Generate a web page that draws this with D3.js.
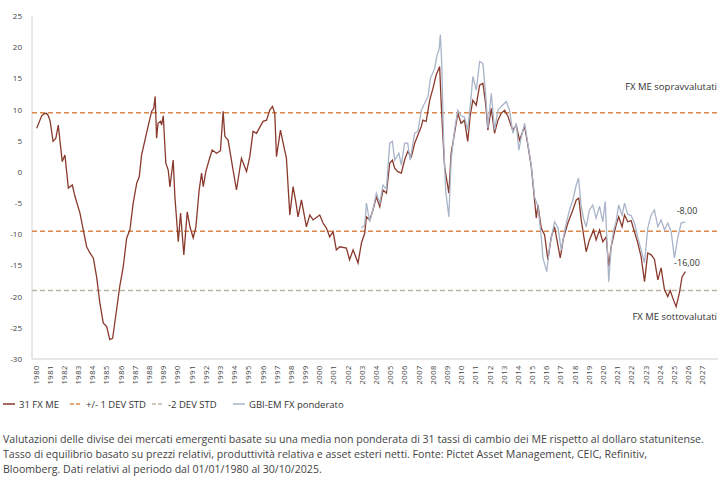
<!DOCTYPE html>
<html>
<head>
<meta charset="utf-8">
<script src="https://cdn.jsdelivr.net/npm/d3@7"></script>
<style>
  body { margin: 0; background: #fff; font-family: "Open Sans", sans-serif; }
  svg { display: block; }
</style>
</head>
<body>
<svg width="724" height="477"></svg>
<script>
// 31 FX ME (media non ponderata)
let fxDates = [1980.05,1980.4,1980.56,1980.75,1980.87,1981.0,1981.2,1981.4,1981.57,1981.85,1982.04,1982.28,1982.56,1982.75,1983.1,1983.33,1983.57,1983.8,1984.04,1984.27,1984.5,1984.74,1984.98,1985.2,1985.4,1985.68,1985.9,1986.15,1986.39,1986.62,1986.85,1987.1,1987.28,1987.44,1987.68,1987.9,1988.15,1988.3,1988.4,1988.5,1988.6,1988.78,1988.85,1988.97,1989.15,1989.32,1989.44,1989.67,1989.79,1990.03,1990.19,1990.42,1990.66,1990.85,1991.08,1991.27,1991.5,1991.67,1991.79,1991.97,1992.2,1992.42,1992.73,1993.0,1993.19,1993.31,1993.54,1993.85,1994.13,1994.24,1994.48,1994.84,1995.07,1995.3,1995.54,1996.0,1996.25,1996.48,1996.67,1996.83,1996.95,1997.23,1997.42,1997.65,1997.89,1998.12,1998.31,1998.47,1998.71,1999.06,1999.3,1999.53,2000.0,2000.23,2000.47,2000.7,2000.94,2001.17,2001.41,2001.88,2002.1,2002.35,2002.7,2002.94,2003.17,2003.29,2003.52,2003.75,2003.99,2004.23,2004.46,2004.7,2004.93,2005.12,2005.28,2005.5,2005.75,2005.98,2006.2,2006.46,2006.69,2006.92,2007.16,2007.27,2007.5,2007.75,2007.98,2008.2,2008.45,2008.57,2008.68,2008.8,2009.1,2009.26,2009.5,2009.73,2009.96,2010.2,2010.43,2010.6,2010.79,2011.03,2011.27,2011.5,2011.69,2011.85,2012.09,2012.32,2012.56,2012.79,2013.03,2013.27,2013.5,2013.61,2013.85,2014.08,2014.44,2014.67,2014.91,2015.14,2015.26,2015.38,2015.61,2015.85,2016.08,2016.32,2016.55,2016.95,2017.18,2017.49,2017.84,2018.08,2018.26,2018.43,2018.78,2019.01,2019.3,2019.48,2019.72,2019.95,2020.19,2020.37,2020.54,2020.7,2020.89,2021.07,2021.31,2021.48,2021.71,2021.95,2022.18,2022.42,2022.65,2022.89,2023.12,2023.36,2023.59,2023.83,2024.06,2024.3,2024.53,2024.7,2024.88,2025.12,2025.35,2025.54,2025.77];
let fxValues = [7.0,9.0,9.3,9.4,9.0,8.1,4.9,5.4,7.5,1.65,2.7,-2.6,-2.1,-3.95,-6.6,-9.3,-12.0,-13.0,-13.8,-16.8,-21.0,-24.2,-24.8,-26.9,-26.7,-22.1,-18.4,-15.2,-10.6,-9.3,-5.0,-1.8,-0.75,2.7,5.1,7.3,9.7,10.2,12.1,5.4,7.8,8.1,7.5,9.0,1.4,0.3,-2.4,1.9,-4.0,-11.2,-6.6,-13.3,-6.4,-8.8,-10.6,-8.8,-2.9,-0.2,-2.35,0.05,1.9,3.5,3.0,3.4,9.7,5.7,5.1,0.85,-2.9,-1.3,2.2,0.05,2.45,6.5,6.2,8.1,8.3,9.9,10.5,9.4,2.45,6.7,4.6,2.2,-6.9,-2.35,-4.75,-7.2,-4.5,-8.8,-6.9,-7.7,-6.9,-8.2,-9.0,-10.4,-9.6,-12.5,-12.0,-12.2,-14.1,-12.5,-14.6,-11.4,-9.8,-7.2,-7.7,-6.1,-4.0,-5.6,-2.9,-3.4,1.4,1.9,0.6,0.05,-0.2,1.9,3.25,2.45,4.6,5.9,7.3,8.3,8.1,11.5,13.4,15.5,16.9,10.5,5.7,0.85,-3.4,3.0,6.2,9.4,7.8,8.3,4.9,8.9,11.5,10.7,13.9,14.2,11.0,6.7,10.2,6.2,8.3,9.4,9.9,8.9,7.3,6.7,7.5,5.1,7.3,4.3,0.85,-4.5,-7.4,-5.3,-9.0,-10.1,-14.1,-10.4,-8.8,-13.8,-10.6,-8.2,-6.1,-4.5,-4.2,-7.7,-12.8,-10.9,-9.3,-10.9,-9.3,-11.2,-10.4,-15.2,-12.0,-10.4,-8.5,-7.2,-8.8,-6.9,-8.0,-7.8,-9.6,-11.4,-13.6,-17.6,-13.0,-13.3,-14.0,-17.3,-15.4,-18.9,-20.0,-19.0,-20.2,-21.6,-19.4,-16.8,-16.0];

// GBI-EM FX ponderato
let gbiDates = [2002.94,2003.17,2003.29,2003.52,2003.75,2003.99,2004.23,2004.46,2004.7,2004.93,2005.12,2005.28,2005.58,2005.75,2005.98,2006.2,2006.37,2006.69,2006.92,2007.16,2007.39,2007.63,2007.8,2008.1,2008.27,2008.41,2008.5,2008.59,2008.73,2008.87,2009.1,2009.26,2009.5,2009.73,2009.96,2010.2,2010.43,2010.67,2010.79,2011.03,2011.27,2011.5,2011.69,2011.85,2012.09,2012.32,2012.56,2012.79,2013.15,2013.38,2013.61,2013.85,2014.03,2014.2,2014.44,2014.67,2014.91,2015.14,2015.38,2015.61,2015.73,2016.0,2016.2,2016.55,2016.8,2017.02,2017.3,2017.6,2017.84,2018.08,2018.24,2018.43,2018.6,2018.78,2019.01,2019.24,2019.48,2019.72,2019.95,2020.12,2020.37,2020.54,2020.7,2020.89,2021.07,2021.31,2021.48,2021.71,2021.95,2022.18,2022.42,2022.65,2022.89,2023.12,2023.36,2023.59,2023.83,2024.06,2024.3,2024.53,2024.77,2025.0,2025.23,2025.47,2025.77];
let gbiValues = [-9.0,-8.5,-5.0,-8.0,-6.1,-3.4,-5.0,-2.1,-2.8,4.6,4.9,1.9,3.0,1.1,4.6,4.6,1.9,6.2,6.5,9.9,11.0,12.1,15.0,16.6,18.75,19.6,22.0,17.9,5.1,-2.9,-7.2,1.9,6.7,9.9,9.0,8.8,6.7,12.1,15.3,13.1,17.7,17.4,12.6,7.0,12.6,6.7,9.9,10.5,11.3,9.9,6.2,7.8,3.5,5.5,7.8,4.5,1.0,-4.0,-5.5,-10.4,-13.8,-16.0,-12.0,-8.0,-9.0,-12.5,-9.0,-6.1,-4.5,-2.1,-1.0,-5.6,-7.5,-8.8,-6.1,-5.3,-7.4,-5.5,-8.0,-4.75,-17.6,-12.0,-9.5,-8.0,-5.3,-7.0,-5.0,-6.8,-7.0,-8.2,-10.5,-12.5,-14.6,-9.0,-6.9,-6.1,-8.8,-7.7,-9.3,-8.2,-9.6,-13.8,-10.6,-8.2,-8.0];

let yTicks = [25,20,15,10,5,0,-5,-10,-15,-20,-25,-30];
let xYears = d3.range(1980, 2028);
let devOne = [9.5, -9.5];
let devTwo = [-19];

let svg = d3.select("svg");

let x = d3.scaleLinear().domain([1980, 2028]).range([36, 717]);
let y = d3.scaleLinear().domain([-30, 25]).range([359, 16]);

let brown = "#8a3a2c",
  grey = "#a9b4c9",
  orange = "#d9884c",
  khaki = "#bcb5a2";

// formato italiano con trattino normale
let fmt = v => d3.format(".2f")(v).replace("−", "-").replace(".", ",");

// assi
svg.append("line")
  .attr("x1", 32).attr("x2", 32)
  .attr("y1", y(25)).attr("y2", y(-30))
  .style("stroke", "#d0d0d0");
svg.append("line")
  .attr("x1", 32).attr("x2", 718)
  .attr("y1", y(-30)).attr("y2", y(-30))
  .style("stroke", "#d0d0d0");

svg.selectAll(".ytick")
  .data(yTicks)
  .enter().append("text")
  .attr("class", "ytick")
  .attr("x", 22)
  .attr("y", d => y(d) + 3)
  .attr("text-anchor", "end")
  .style("font-size", "8px")
  .style("fill", "#444")
  .text(d => d);

svg.selectAll(".xtick")
  .data(xYears)
  .enter().append("text")
  .attr("class", "xtick")
  .attr("transform", d => `translate(${x(d) + 2.5},365) rotate(-90)`)
  .attr("text-anchor", "end")
  .style("font-size", "7.5px")
  .style("letter-spacing", "0.6px")
  .style("fill", "#444")
  .text(d => d);

// bande deviazione standard
svg.selectAll(".dev1")
  .data(devOne)
  .enter().append("line")
  .attr("x1", 32).attr("x2", 718)
  .attr("y1", d => y(d)).attr("y2", d => y(d))
  .style("stroke", orange)
  .style("stroke-width", 1.5)
  .style("stroke-dasharray", "5,3");

svg.selectAll(".dev2")
  .data(devTwo)
  .enter().append("line")
  .attr("x1", 32).attr("x2", 718)
  .attr("y1", d => y(d)).attr("y2", d => y(d))
  .style("stroke", khaki)
  .style("stroke-width", 1.5)
  .style("stroke-dasharray", "5,3");

let line = d3.line()
  .x(d => x(d[0]))
  .y(d => y(d[1]));

svg.append("path")
  .datum(d3.zip(fxDates, fxValues))
  .attr("d", line)
  .style("fill", "none")
  .style("stroke", brown)
  .style("stroke-width", 1.3);

svg.append("path")
  .datum(d3.zip(gbiDates, gbiValues))
  .attr("d", line)
  .style("fill", "none")
  .style("stroke", grey)
  .style("stroke-width", 1.3);

// annotazioni
let lastGbi = gbiValues[gbiValues.length - 1];
let lastFx = fxValues[fxValues.length - 1];
svg.append("text")
  .attr("x", 687).attr("y", y(lastGbi) - 8)
  .attr("text-anchor", "middle")
  .style("font-size", "9px").style("fill", "#333")
  .text(fmt(lastGbi));
svg.append("text")
  .attr("x", 687).attr("y", y(lastFx) - 6)
  .attr("text-anchor", "middle")
  .style("font-size", "9px").style("fill", "#333")
  .text(fmt(lastFx));

svg.append("text")
  .attr("x", 717).attr("y", y(devOne[0]) - 23)
  .attr("text-anchor", "end")
  .style("font-size", "9.5px").style("fill", "#333")
  .text("FX ME sopravvalutati");
svg.append("text")
  .attr("x", 717).attr("y", y(devTwo[0]) + 30)
  .attr("text-anchor", "end")
  .style("font-size", "9.5px").style("fill", "#333")
  .text("FX ME sottovalutati");

// legenda
let legendItems = [
  {name: "31 FX ME", color: brown, dash: null, x: 3},
  {name: "+/- 1 DEV STD", color: orange, dash: "4,2", x: 70},
  {name: "-2 DEV STD", color: khaki, dash: "4,2", x: 152},
  {name: "GBI-EM FX ponderato", color: grey, dash: null, x: 233}
];
let legend = svg.selectAll(".legend")
  .data(legendItems)
  .enter().append("g")
  .attr("transform", d => `translate(${d.x},404)`);
legend.append("line")
  .attr("x1", 0).attr("x2", 12)
  .style("stroke", d => d.color)
  .style("stroke-width", 1.5)
  .style("stroke-dasharray", d => d.dash);
legend.append("text")
  .attr("x", 16).attr("y", 3.5)
  .style("font-size", "9.5px").style("fill", "#333")
  .text(d => d.name);

// didascalia
let caption = [
  "Valutazioni delle divise dei mercati emergenti basate su una media non ponderata di 31 tassi di cambio dei ME rispetto al dollaro statunitense.",
  "Tasso di equilibrio basato su prezzi relativi, produttività relativa e asset esteri netti. Fonte: Pictet Asset Management, CEIC, Refinitiv,",
  "Bloomberg. Dati relativi al periodo dal 01/01/1980 al 30/10/2025."
];
svg.selectAll(".caption")
  .data(caption)
  .enter().append("text")
  .attr("x", 3)
  .attr("y", (d, i) => 443 + i * 15)
  .style("font-size", "10.6px")
  .style("fill", "#444")
  .text(d => d);
</script>
</body>
</html>
